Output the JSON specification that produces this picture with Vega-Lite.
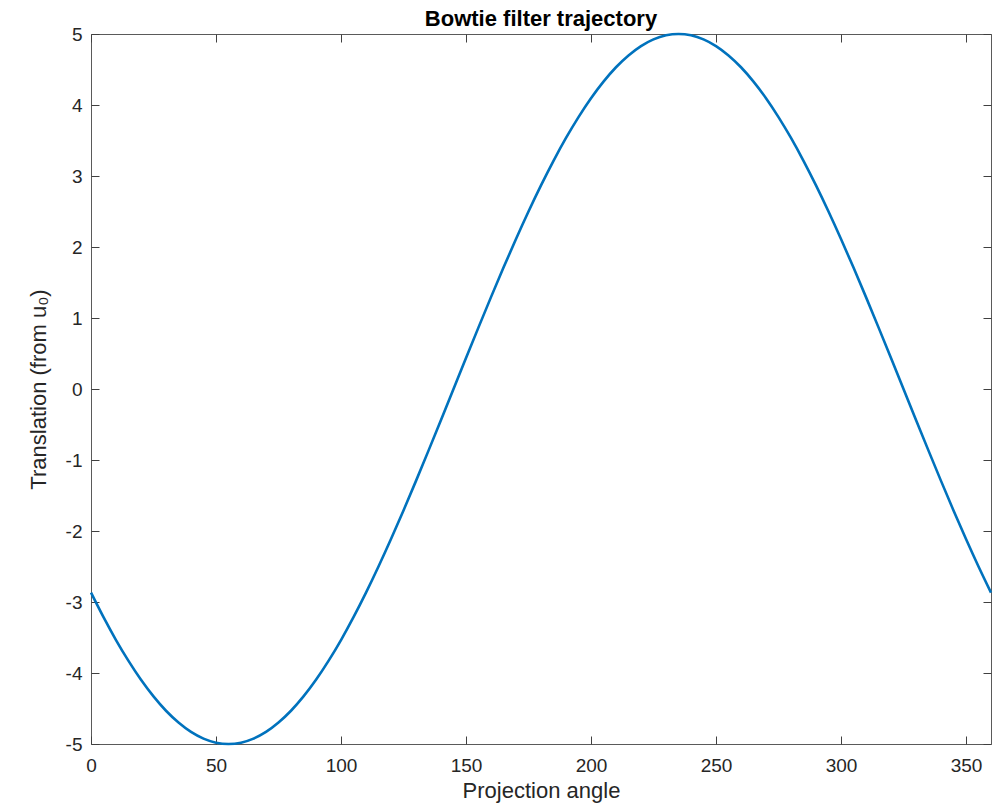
{
  "$schema": "https://vega.github.io/schema/vega-lite/v6.json",
  "width": 900,
  "height": 710,
  "autosize": "none",
  "padding": {"left": 91, "top": 34, "right": 12, "bottom": 62},
  "background": "white",
  "config": {
    "view": {"stroke": "#5a5a5a", "strokeWidth": 1},
    "font": "Liberation Sans",
    "axis": {
      "domain": false,
      "grid": false,
      "tickColor": "#404040",
      "tickSize": -8,
      "tickWidth": 1,
      "labelFlush": false,
      "labelFont": "Liberation Sans",
      "labelFontSize": 19,
      "labelColor": "#262626",
      "labelExpr": "toString(datum.value)",
      "titleFont": "Liberation Sans",
      "titleFontSize": 22,
      "titleFontWeight": "normal",
      "titleColor": "#262626"
    }
  },
  "title": {
    "text": "Bowtie filter trajectory",
    "fontSize": 22,
    "fontWeight": "bold",
    "font": "Liberation Sans",
    "color": "#000000",
    "anchor": "middle",
    "offset": -6
  },
  "data": {
    "values": [
      {"angle": 0, "translation": -2.868},
      {"angle": 5, "translation": -3.214},
      {"angle": 10, "translation": -3.536},
      {"angle": 15, "translation": -3.830},
      {"angle": 20, "translation": -4.096},
      {"angle": 25, "translation": -4.330},
      {"angle": 30, "translation": -4.532},
      {"angle": 35, "translation": -4.698},
      {"angle": 40, "translation": -4.830},
      {"angle": 45, "translation": -4.924},
      {"angle": 50, "translation": -4.981},
      {"angle": 55, "translation": -5.0},
      {"angle": 60, "translation": -4.981},
      {"angle": 65, "translation": -4.924},
      {"angle": 70, "translation": -4.830},
      {"angle": 75, "translation": -4.698},
      {"angle": 80, "translation": -4.532},
      {"angle": 85, "translation": -4.330},
      {"angle": 90, "translation": -4.096},
      {"angle": 95, "translation": -3.830},
      {"angle": 100, "translation": -3.536},
      {"angle": 105, "translation": -3.214},
      {"angle": 110, "translation": -2.868},
      {"angle": 115, "translation": -2.5},
      {"angle": 120, "translation": -2.113},
      {"angle": 125, "translation": -1.710},
      {"angle": 130, "translation": -1.294},
      {"angle": 135, "translation": -0.868},
      {"angle": 140, "translation": -0.436},
      {"angle": 145, "translation": 0.0},
      {"angle": 150, "translation": 0.436},
      {"angle": 155, "translation": 0.868},
      {"angle": 160, "translation": 1.294},
      {"angle": 165, "translation": 1.710},
      {"angle": 170, "translation": 2.113},
      {"angle": 175, "translation": 2.5},
      {"angle": 180, "translation": 2.868},
      {"angle": 185, "translation": 3.214},
      {"angle": 190, "translation": 3.536},
      {"angle": 195, "translation": 3.830},
      {"angle": 200, "translation": 4.096},
      {"angle": 205, "translation": 4.330},
      {"angle": 210, "translation": 4.532},
      {"angle": 215, "translation": 4.698},
      {"angle": 220, "translation": 4.830},
      {"angle": 225, "translation": 4.924},
      {"angle": 230, "translation": 4.981},
      {"angle": 235, "translation": 5.0},
      {"angle": 240, "translation": 4.981},
      {"angle": 245, "translation": 4.924},
      {"angle": 250, "translation": 4.830},
      {"angle": 255, "translation": 4.698},
      {"angle": 260, "translation": 4.532},
      {"angle": 265, "translation": 4.330},
      {"angle": 270, "translation": 4.096},
      {"angle": 275, "translation": 3.830},
      {"angle": 280, "translation": 3.536},
      {"angle": 285, "translation": 3.214},
      {"angle": 290, "translation": 2.868},
      {"angle": 295, "translation": 2.5},
      {"angle": 300, "translation": 2.113},
      {"angle": 305, "translation": 1.710},
      {"angle": 310, "translation": 1.294},
      {"angle": 315, "translation": 0.868},
      {"angle": 320, "translation": 0.436},
      {"angle": 325, "translation": 0.0},
      {"angle": 330, "translation": -0.436},
      {"angle": 335, "translation": -0.868},
      {"angle": 340, "translation": -1.294},
      {"angle": 345, "translation": -1.710},
      {"angle": 350, "translation": -2.113},
      {"angle": 355, "translation": -2.5},
      {"angle": 360, "translation": -2.868}
    ]
  },
  "layer": [
    {
      "mark": {"type": "line", "color": "#0072BD", "strokeWidth": 2.6, "clip": false, "interpolate": "monotone"},
      "encoding": {
        "x": {
          "field": "angle",
          "type": "quantitative",
          "scale": {"domain": [0, 360], "nice": false, "zero": false},
          "axis": {
            "orient": "bottom",
            "values": [0, 50, 100, 150, 200, 250, 300, 350],
            "labelPadding": 20,
            "labelBaseline": "top",
            "title": "Projection angle",
            "titleBaseline": "alphabetic",
            "titleY": 53
          }
        },
        "y": {
          "field": "translation",
          "type": "quantitative",
          "scale": {"domain": [-5, 5], "nice": false, "zero": false},
          "axis": {
            "orient": "left",
            "values": [-5, -4, -3, -2, -1, 0, 1, 2, 3, 4, 5],
            "labelPadding": 17,
            "title": "Translation (from u₀)",
            "titleAngle": -90,
            "titleAlign": "center",
            "titleBaseline": "alphabetic",
            "titleX": -46,
            "titleY": 355
          }
        }
      }
    },
    {
      "mark": {"type": "line", "opacity": 0},
      "encoding": {
        "x": {
          "field": "angle",
          "type": "quantitative",
          "axis": {
            "orient": "top",
            "values": [0, 50, 100, 150, 200, 250, 300, 350],
            "labels": false,
            "title": null
          }
        },
        "y": {
          "field": "translation",
          "type": "quantitative",
          "axis": {
            "orient": "right",
            "values": [-5, -4, -3, -2, -1, 0, 1, 2, 3, 4, 5],
            "labels": false,
            "title": null
          }
        }
      }
    }
  ],
  "resolve": {"axis": {"x": "independent", "y": "independent"}}
}
